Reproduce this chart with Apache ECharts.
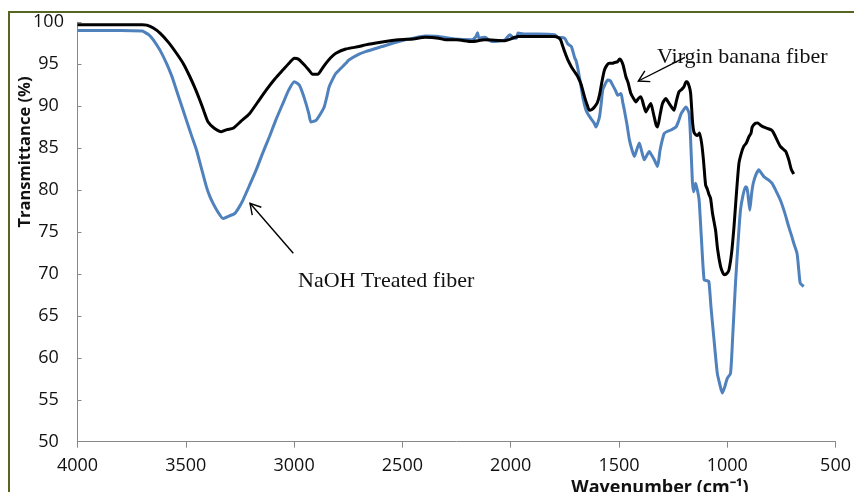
<!DOCTYPE html>
<html>
<head>
<meta charset="utf-8">
<script src="https://cdn.jsdelivr.net/npm/echarts@6/dist/echarts.min.js"></script>
<style>
html,body{margin:0;padding:0;background:#fff;}
#chart{width:854px;height:492px;}
</style>
</head>
<body>
<div id="chart"></div>
<script>
// X tick labels (wavenumber, cm-1) and Y tick range
var xTicks = [4000, 3500, 3000, 2500, 2000, 1500, 1000, 500];
var yTicks = [50, 55, 60, 65, 70, 75, 80, 85, 90, 95, 100];

// Virgin banana fiber (black)
var virginWn = [4000,3800,3700,3680,3650,3619,3580,3543,3510,3481,3455,3435,3415,3397,3370,3336,3310,3282,3245,3206,3170,3129,3090,3052,3020,2999,2980,2960,2935,2914,2891,2872,2853,2830,2807,2761,2700,2670,2600,2517,2450,2394,2333,2300,2250,2180,2120,2027,1980,1966,1900,1800,1782,1770,1759,1751,1736,1720,1700,1690,1675,1659,1645,1637,1625,1613,1600,1590,1578,1567,1555,1544,1530,1521,1506,1497,1491,1481,1468,1458,1445,1428,1422,1410,1399,1385,1376,1365,1353,1340,1328,1322,1310,1299,1284,1268,1255,1246,1235,1223,1210,1200,1190,1185,1175,1169,1160,1154,1146,1138,1128,1118,1110,1100,1092,1085,1077,1068,1054,1045,1031,1020,1012,1000,992,980,969,958,946,935,924,912,900,890,885,870,860,845,831,810,793,780,770,755,739,730,716,705,693];
var virginT = [99.7,99.7,99.7,99.65,99.3,98.7,97.6,96.3,95.0,93.5,92.0,90.7,89.3,88.1,87.4,86.95,87.2,87.35,88.2,89.1,90.4,91.9,93.2,94.3,95.2,95.7,95.6,95.1,94.4,93.8,93.8,94.4,95.1,95.8,96.3,96.8,97.1,97.3,97.6,97.9,98.0,98.2,98.1,97.9,97.9,97.7,97.9,97.8,98.2,98.3,98.3,98.3,98.2,97.9,97.1,96.5,95.5,94.7,93.9,93.5,92.6,91.1,90.0,89.5,89.6,89.9,90.4,91.3,93.0,94.3,94.9,95.1,95.1,95.2,95.3,95.6,95.5,94.9,93.5,92.8,91.5,90.7,90.5,90.9,91.1,90.0,89.3,89.8,90.3,89.0,87.7,87.5,89.0,90.3,90.9,90.3,89.8,89.5,90.6,91.7,92.0,92.3,92.9,92.9,92.3,91.5,88.0,86.9,86.6,86.5,86.8,85.5,83.6,80.6,80.1,79.5,79.0,77.2,75.2,73.0,70.9,70.1,69.9,70.1,70.5,72.5,75.6,79.5,83.2,84.4,85.2,85.6,86.35,86.8,87.5,87.95,88.0,87.7,87.5,87.3,87.1,86.5,85.95,85.2,84.8,84.6,83.6,82.5,81.9];

// NaOH treated fiber (blue)
var naohWn = [4000,3800,3700,3696,3670,3650,3620,3589,3565,3543,3520,3497,3475,3451,3428,3405,3390,3374,3350,3328,3300,3274,3255,3236,3205,3175,3145,3114,3085,3052,3025,2999,2976,2960,2945,2932,2922,2899,2880,2861,2848,2838,2820,2807,2761,2747,2700,2670,2594,2517,2450,2394,2333,2260,2180,2160,2153,2146,2119,2088,2027,2004,1985,1973,1966,1940,1874,1797,1782,1751,1736,1720,1705,1698,1690,1675,1665,1652,1640,1629,1615,1606,1598,1590,1582,1575,1562,1552,1540,1529,1515,1506,1491,1483,1475,1463,1452,1440,1429,1418,1406,1395,1383,1370,1360,1348,1337,1322,1310,1291,1275,1260,1237,1225,1213,1200,1192,1185,1176,1170,1161,1155,1146,1138,1130,1120,1107,1095,1085,1075,1061,1046,1035,1023,1012,1000,985,975,962,950,939,928,916,910,905,896,888,880,868,854,845,831,810,793,775,755,735,716,700,693,678,670,663,647];
var naohT = [99.0,99.0,98.95,98.9,98.5,97.9,96.7,95.1,93.6,91.9,90.1,88.3,86.6,84.8,82.6,80.4,79.3,78.4,77.3,76.6,76.9,77.2,77.9,78.8,80.6,82.4,84.4,86.35,88.3,90.3,91.9,92.9,92.5,91.5,90.3,89.1,88.1,88.3,89.0,89.9,91.2,92.3,93.3,93.9,95.1,95.5,96.2,96.5,97.1,97.7,98.1,98.35,98.3,98.0,97.9,98.3,98.75,98.1,98.2,97.7,97.9,98.5,98.1,98.1,98.7,98.6,98.6,98.5,98.2,98.1,97.4,97.1,95.8,95.4,94.5,92.3,90.8,89.5,88.9,88.5,88.0,87.5,88.0,88.7,90.3,91.9,92.7,93.1,93.0,92.5,91.8,91.3,91.5,90.5,89.5,87.8,86.0,84.8,84.0,84.8,85.6,84.6,83.6,84.2,84.6,84.1,83.6,82.8,84.8,86.75,87.0,87.15,87.5,88.2,89.1,89.6,89.9,89.7,89.1,86.5,81.0,79.8,80.8,80.0,78.8,74.5,69.3,69.2,69.1,66.0,62.1,58.15,56.9,55.8,56.5,57.55,58.15,62.5,68.9,73.8,77.6,79.3,80.4,80.3,79.6,77.6,79.5,80.8,81.8,82.4,82.1,81.6,81.2,80.8,79.9,78.8,77.3,75.6,74.3,73.65,72.45,70.5,68.9,68.5];

function pairs(xs, ys){ var out=[]; for (var i=0;i<xs.length;i++) out.push([xs[i], ys[i]]); return out; }

function arrow(x1, y1, x2, y2){
  var dx = x1 - x2, dy = y1 - y2, L = Math.sqrt(dx*dx+dy*dy);
  var ux = dx/L, uy = dy/L, a = Math.PI/6, len = 12;
  function rot(t){ return [x2 + len*(ux*Math.cos(t) - uy*Math.sin(t)), y2 + len*(ux*Math.sin(t) + uy*Math.cos(t))]; }
  var p1 = rot(a), p2 = rot(-a);
  return [
    {type:'line', shape:{x1:x1,y1:y1,x2:x2,y2:y2}, style:{stroke:'#000', lineWidth:1.4}, z:100},
    {type:'polyline', shape:{points:[p1,[x2,y2],p2]}, style:{stroke:'#000', lineWidth:1.4, fill:null}, z:100}
  ];
}

var chart = echarts.init(document.getElementById('chart'), null, {renderer:'canvas'});
var axisGrey = '#888888';
var labelFont = {fontFamily:'Open Sans', fontSize:18, color:'#111'};

var graphics = [
  {type:'rect', shape:{x:9, y:12, width:870, height:520}, style:{stroke:'#56651f', lineWidth:2, fill:null}, z:0, silent:true},
  {type:'text', x:25, y:152, rotation:Math.PI/2, style:{text:'Transmittance (%)', fontFamily:'Open Sans', fontWeight:'bold', fontSize:16.5, fill:'#111', align:'center', verticalAlign:'middle'}},
  {type:'text', x:660, y:488, style:{text:'Wavenumber (cm\u207B\u00B9)', fontFamily:'Open Sans', fontWeight:'bold', fontSize:18, fill:'#111', align:'center', verticalAlign:'middle'}},
  {type:'text', x:657, y:46, style:{text:'Virgin banana fiber', fontFamily:'Liberation Serif', fontSize:22, fill:'#111', align:'left', verticalAlign:'alphabetic'}},
  {type:'text', x:298, y:270, style:{text:'NaOH Treated fiber', fontFamily:'Liberation Serif', fontSize:22, fill:'#111', align:'left', verticalAlign:'alphabetic'}}
].concat(arrow(685, 57.3, 638.3, 81)).concat(arrow(293.3, 253.3, 250, 203.3));

chart.setOption({
  animation:false,
  backgroundColor:'#fff',
  grid:{left:77.5, right:15.3, top:22.2, bottom:50.3, containLabel:false},
  xAxis:{
    type:'value', inverse:true, min:xTicks[xTicks.length-1], max:xTicks[0], interval:500,
    axisLine:{show:true, lineStyle:{color:axisGrey, width:1}},
    axisTick:{show:true, inside:false, length:6, lineStyle:{color:axisGrey}},
    axisLabel:Object.assign({margin:15, formatter:function(v){ return String(v); }}, labelFont),
    splitLine:{show:false}
  },
  yAxis:{
    type:'value', min:yTicks[0], max:yTicks[yTicks.length-1], interval:5,
    axisLine:{show:true, lineStyle:{color:axisGrey, width:1}},
    axisTick:{show:true, inside:true, length:4, lineStyle:{color:axisGrey}},
    axisLabel:Object.assign({margin:29, align:'center', formatter:function(v){ return String(v); }}, labelFont),
    splitLine:{show:false}
  },
  series:[
    {name:'NaOH Treated fiber', type:'line', data:pairs(naohWn, naohT), showSymbol:false, smooth:0.2,
     lineStyle:{color:'#4f81bd', width:3}, itemStyle:{color:'#4f81bd'}, z:2},
    {name:'Virgin banana fiber', type:'line', data:pairs(virginWn, virginT), showSymbol:false, smooth:0.2,
     lineStyle:{color:'#000', width:3}, itemStyle:{color:'#000'}, z:3}
  ],
  graphic:graphics
});
</script>
</body>
</html>
